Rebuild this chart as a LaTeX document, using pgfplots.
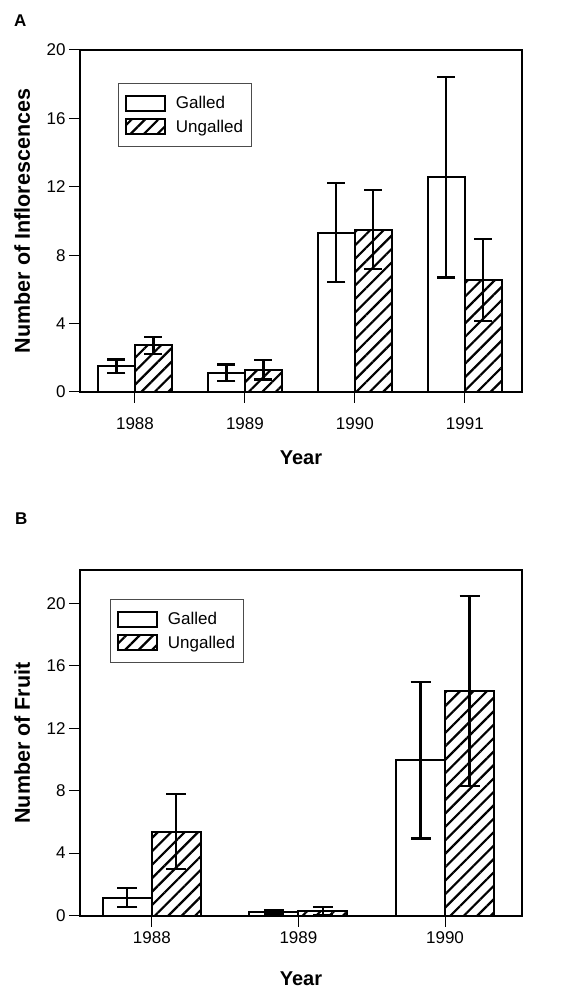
\documentclass[border=0pt]{standalone}
\usepackage{fontspec}
\setmainfont{Liberation Sans}
\usepackage{pgfplots}
\pgfplotsset{compat=1.18}
\usetikzlibrary{patterns.meta}

\tikzset{hatch/.style={pattern={Lines[angle=45,distance=9.5pt,line width=2.2pt]}}}
\pgfplotsset{
  boxleg/.style={legend image code/.code={\draw[##1, line width=2pt] (0pt,-7.5pt) rectangle (39pt,7.5pt);}},
  common/.style={
    scale only axis,
    width=442pt,
    ymin=0,
    axis line style={line width=2pt},
    tick align=outside,
    xtick pos=bottom, ytick pos=left,
    major tick length=11pt,
    major tick style={line width=1pt, black},
    ticklabel style={font=\fontsize{17}{20}\selectfont},
    /pgf/number format/assume math mode=true,
    xtick=data,
    ytick={0,4,8,12,16,20},
    ybar=0pt,
    label style={font=\bfseries\fontsize{20}{24}\selectfont},
    ylabel style={at={(axis description cs:-0.131,0.5)}, anchor=center, font=\bfseries\fontsize{21.5}{25}\selectfont},
    legend style={anchor=north west, draw=black!70, line width=0.8pt,
      font=\fontsize{17}{20}\selectfont, cells={anchor=west},
      inner xsep=6.5pt, inner ysep=11pt, row sep=5.5pt,
      /tikz/every odd column/.append style={column sep=8pt}},
    legend cell align=left,
  },
  gal/.style={draw=black, fill=white, line width=2pt, boxleg,
    error bars/.cd, y dir=both, y explicit,
    error bar style={line width=2.2pt, black},
    error mark options={rotate=90, black, line width=2.2pt, mark size=#1}},
  ung/.style={draw=black, hatch, line width=2pt, boxleg,
    error bars/.cd, y dir=both, y explicit,
    error bar style={line width=2.2pt, black},
    error mark options={rotate=90, black, line width=2.2pt, mark size=#1}},
}

\begin{document}
\begin{tikzpicture}
\path[use as bounding box] (0,0) rectangle (580pt,990pt);

\node[anchor=base west, font=\bfseries\fontsize{17}{20}\selectfont, inner sep=0pt] at (14pt,963pt) {A};
\node[anchor=base west, font=\bfseries\fontsize{17}{20}\selectfont, inner sep=0pt] at (15pt,465pt) {B};

\begin{axis}[common,
  at={(80pt,598pt)}, anchor=south west,
  height=342pt,
  ymax=20,
  xmin=-0.5, xmax=3.52,
  bar width=37pt,
  xticklabels={1988,1989,1990,1991},
  xticklabel style={yshift=-11pt},
  xlabel={Year},
  ylabel={Number of Inflorescences},
  xlabel style={at={(axis description cs:0.5,-0.193)}, anchor=center},
  legend style={at={(0.086,0.9035)}},
]
\addplot[gal=9pt] coordinates {(0,1.5) +- (0,0.4) (1,1.13) +- (0,0.48) (2,9.32) +- (0,2.9) (3,12.55) +- (0,5.85)};
\addplot[ung=9pt] coordinates {(0,2.72) +- (0,0.5) (1,1.3) +- (0,0.57) (2,9.5) +- (0,2.33) (3,6.55) +- (0,2.38)};
\legend{Galled,Ungalled}
\end{axis}

\begin{axis}[common,
  at={(80pt,74.5pt)}, anchor=south west,
  height=345pt,
  ymax=22.1,
  xmin=-0.49, xmax=2.525,
  bar width=49pt,
  xticklabels={1988,1989,1990},
  xticklabel style={yshift=-1.5pt},
  xlabel={Year},
  ylabel={Number of Fruit},
  xlabel style={at={(axis description cs:0.5,-0.184)}, anchor=center},
  legend style={at={(0.068,0.917)}},
]
\addplot[gal=10pt] coordinates {(0,1.15) +- (0,0.6) (1,0.25) +- (0,0.12) (2,9.95) +- (0,5.02)};
\addplot[ung=10pt] coordinates {(0,5.36) +- (0,2.4) (1,0.3) +- (0,0.25) (2,14.38) +- (0,6.1)};
\legend{Galled,Ungalled}
\end{axis}
\end{tikzpicture}
\end{document}
